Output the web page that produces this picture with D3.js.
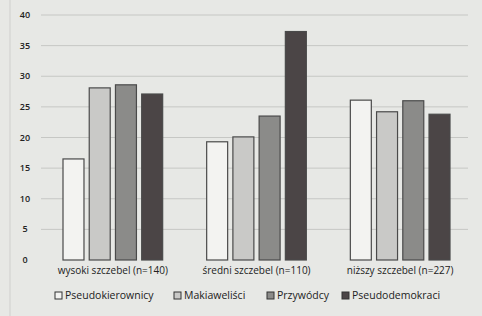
<!DOCTYPE html>
<html>
<head>
<meta charset="utf-8">
<script src="https://d3js.org/d3.v7.min.js"></script>
<style>
  body { margin: 0; background: #e7e8e5; }
  svg { display: block; }
  text { font-family: "Open Sans", sans-serif; fill: #222; }
</style>
</head>
<body>
<div id="viz-chart"></div>
<script>
const categories = ["wysoki szczebel (n=140)", "średni szczebel (n=110)", "niższy szczebel (n=227)"];
const seriesNames = ["Pseudokierownicy", "Makiaweliści", "Przywódcy", "Pseudodemokraci"];
const pseudokierownicy = [16.5, 19.3, 26.1];
const makiawelisci = [28.1, 20.1, 24.2];
const przywodcy = [28.6, 23.5, 26.0];
const pseudodemokraci = [27.1, 37.3, 23.8];
const yTicks = [0, 5, 10, 15, 20, 25, 30, 35, 40];

const seriesValues = [pseudokierownicy, makiawelisci, przywodcy, pseudodemokraci];
const fills = ["#f3f3f1", "#c9c9c7", "#8b8b89", "#4b4546"];

const width = 482, height = 316;
const margin = { top: 15, right: 10, bottom: 56, left: 41 };

const svg = d3
  .select("#viz-chart")
  .append("svg")
  .attr("width", width)
  .attr("height", height);

// faint frame line on the left
svg.append("line")
  .attr("x1", 10).attr("x2", 10)
  .attr("y1", 0).attr("y2", height)
  .style("stroke", "#cfcfcd");

const x = d3.scaleBand()
  .domain(categories)
  .range([margin.left, width - margin.right]);

const xInner = d3.scaleBand()
  .domain(seriesNames)
  .range([22, x.bandwidth() - 22])
  .paddingInner(0.2);

const y = d3.scaleLinear()
  .domain([0, 40])
  .range([260, 15]);

// gridlines
svg.selectAll("line.grid")
  .data(yTicks.filter((d) => d > 0))
  .enter()
  .append("line")
  .classed("grid", true)
  .attr("x1", margin.left)
  .attr("x2", 468)
  .attr("y1", (d) => y(d))
  .attr("y2", (d) => y(d))
  .style("stroke", "#c6c7c4")
  .style("stroke-width", 1);

// y tick labels
svg.selectAll("text.ytick")
  .data(yTicks)
  .enter()
  .append("text")
  .classed("ytick", true)
  .attr("x", 25)
  .attr("y", (d) => y(d) + 3)
  .attr("text-anchor", "middle")
  .style("font-size", "9px")
  .style("font-weight", 600)
  .text((d) => d);

// bars
const groups = svg.selectAll("g.group")
  .data(categories)
  .enter()
  .append("g")
  .attr("transform", (d) => `translate(${x(d)},0)`);

groups.selectAll("rect")
  .data((d, i) => seriesNames.map((s, j) => ({ s, j, v: seriesValues[j][i] })))
  .enter()
  .append("rect")
  .attr("x", (d) => xInner(d.s))
  .attr("y", (d) => y(d.v))
  .attr("width", xInner.bandwidth())
  .attr("height", (d) => y(0) - y(d.v))
  .style("fill", (d) => fills[d.j])
  .style("stroke", "#4a4a4a")
  .style("stroke-width", 1.2);

// category labels
svg.selectAll("text.cat")
  .data(categories)
  .enter()
  .append("text")
  .classed("cat", true)
  .attr("x", (d) => x(d) + x.bandwidth() / 2)
  .attr("y", 274)
  .attr("text-anchor", "middle")
  .style("font-size", "10px")
  .text((d) => d);

// legend
const legendX = [55, 174, 267, 342];
const legend = svg.selectAll("g.legend")
  .data(seriesNames)
  .enter()
  .append("g")
  .attr("transform", (d, i) => `translate(${legendX[i]},299)`);

legend.append("rect")
  .attr("x", 0)
  .attr("y", -7)
  .attr("width", 7)
  .attr("height", 7)
  .style("fill", (d, i) => fills[i])
  .style("stroke", "#333")
  .style("stroke-width", 1);

legend.append("text")
  .attr("x", 10)
  .attr("y", 0)
  .style("font-size", "10.5px")
  .text((d) => d);
</script>
</body>
</html>
